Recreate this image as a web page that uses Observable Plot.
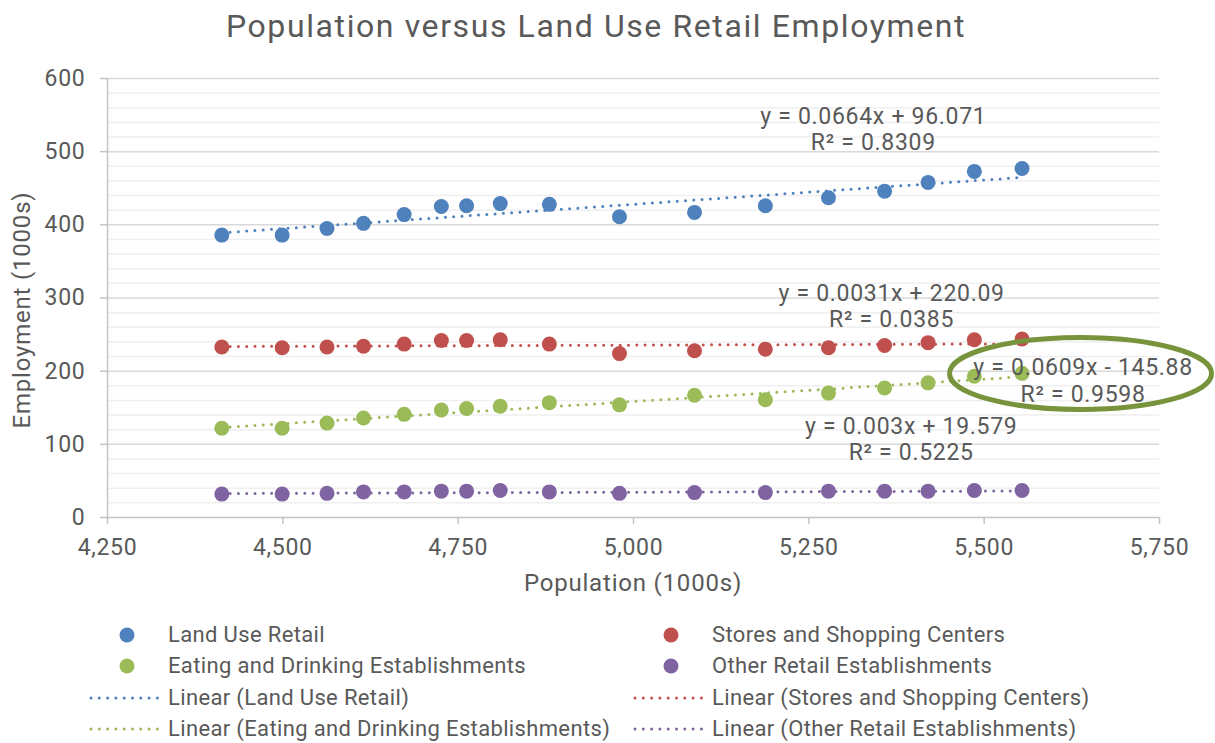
<!DOCTYPE html>
<html>
<head>
<meta charset="utf-8">
<script src="https://cdn.jsdelivr.net/npm/d3@7"></script>
<script src="https://cdn.jsdelivr.net/npm/@observablehq/plot@0.6"></script>
<style>
  body { margin: 0; background: #fff; }
  #chart { position: relative; width: 1215px; height: 743px; background: #fff;
           font-family: Roboto, "Open Sans", sans-serif; color: #595959; overflow: hidden; }
  #title { position: absolute; left: 0; top: 8px; width: 1192px; text-align: center;
           font-size: 32px; letter-spacing: 1.6px; line-height: 36px; white-space: nowrap; }
  #plot { position: absolute; left: 0; top: 40px; }
  .axis-title { position: absolute; font-size: 24px; letter-spacing: 0.8px; line-height: 28px; white-space: nowrap; }
  .legend-item { position: absolute; height: 30px; line-height: 30px; font-size: 22px; letter-spacing: 0.35px; white-space: nowrap; }
  .legend-item svg { position: absolute; top: 0; }
  .legend-item span { position: absolute; top: 0; }
</style>
</head>
<body>
<div id="chart">
  <div id="title">Population versus Land Use Retail Employment</div>
  <div id="plot"></div>
  <div class="axis-title" id="xtitle">Population (1000s)</div>
  <div class="axis-title" id="ytitle">Employment (1000s)</div>
  <div id="legend"></div>
</div>
<script>
// Population (1000s) for each observation year
const population = [4413, 4499, 4563, 4615, 4673, 4726, 4762, 4810, 4880, 4980, 5087, 5188, 5278, 5358, 5420, 5486, 5554];

// Employment (1000s) by category
const landUseRetail   = [386, 386, 395, 402, 414, 425, 426, 429, 428, 411, 417, 426, 437, 446, 458, 473, 477];
const storesShopping  = [233, 232, 233, 234, 237, 242, 242, 243, 237, 224, 228, 230, 232, 235, 239, 243, 244];
const eatingDrinking  = [122, 122, 129, 136, 141, 147, 149, 152, 157, 154, 167, 161, 170, 177, 184, 193, 197];
const otherRetail     = [32, 32, 33, 35, 35, 36, 36, 37, 35, 33, 34, 34, 36, 36, 36, 37, 37];

const seriesNames = ["Land Use Retail", "Stores and Shopping Centers", "Eating and Drinking Establishments", "Other Retail Establishments"];
const seriesValues = [landUseRetail, storesShopping, eatingDrinking, otherRetail];
const seriesColors = ["#4F81BD", "#C0504D", "#9BBB59", "#8064A2"];

// Linear trend line fits for each category
const trendSlopes = [0.0664, 0.0031, 0.0609, 0.003];
const trendIntercepts = [96.071, 220.09, -145.88, 19.579];
const trendR2 = [0.8309, 0.0385, 0.9598, 0.5225];

// Axis ticks
const xTicks = [4250, 4500, 4750, 5000, 5250, 5500, 5750];
const yTicks = [0, 100, 200, 300, 400, 500, 600];

// Where each fit equation sits, in data units (population, employment)
const equationAnchors = [[5342, 532], [5368, 290], [5641, 188], [5396, 108]];

const points = seriesNames.flatMap((name, i) =>
  population.map((p, j) => ({series: name, color: seriesColors[i], population: p, employment: seriesValues[i][j]})));

const [xMin, xMax] = d3.extent(population);
const trends = seriesNames.flatMap((name, i) =>
  [xMin, xMax].map(p => ({series: name, color: seriesColors[i], population: p,
                          employment: trendSlopes[i] * p + trendIntercepts[i]})));

const equations = seriesNames.map((name, i) => ({
  x: equationAnchors[i][0], y: equationAnchors[i][1],
  text: `y = ${trendSlopes[i]}x ${trendIntercepts[i] < 0 ? "-" : "+"} ${Math.abs(trendIntercepts[i])}\nR² = ${trendR2[i]}`
}));

const minorTicks = d3.range(20, 600, 20).filter(d => d % 100 !== 0);
const dotted = "0 8.3";

const plot = Plot.plot({
  width: 1215,
  height: 560,
  marginTop: 38,
  marginBottom: 83,
  marginLeft: 107,
  marginRight: 56,
  style: {fontFamily: "Roboto, 'Open Sans', sans-serif", color: "#595959", background: "transparent", overflow: "visible"},
  x: {domain: [4250, 5750]},
  y: {domain: [0, 600]},
  marks: [
    Plot.ruleY(minorTicks, {stroke: "#efefef", strokeWidth: 1.5}),
    Plot.ruleY(yTicks.filter(d => d > 0), {stroke: "#d9d9d9", strokeWidth: 1.5}),
    Plot.ruleX([4250], {stroke: "#c4c4c4", strokeWidth: 1.5}),
    Plot.ruleY([0], {stroke: "#c4c4c4", strokeWidth: 1.5}),
    Plot.axisX({ticks: xTicks, tickFormat: d3.format(","), tickSize: 7, tickPadding: 14,
                fontSize: 23, stroke: "#c4c4c4", strokeWidth: 1.5, label: null}),
    Plot.axisY({ticks: yTicks, tickSize: 7, tickPadding: 15, fontSize: 23,
                stroke: "#c4c4c4", strokeWidth: 1.5, label: null}),
    Plot.dot(points, {x: "population", y: "employment", r: 7.5, fill: "color"}),
    Plot.line(trends, {x: "population", y: "employment", z: "series", stroke: "color",
                       strokeWidth: 3, strokeDasharray: dotted, strokeLinecap: "round"}),
    Plot.text(equations, {x: "x", y: "y", text: "text", fontSize: 23, lineHeight: 1.15, fill: "#595959"})
  ]
});
d3.select(plot).style("letter-spacing", "0.7px");
document.getElementById("plot").appendChild(plot);

// Highlight ring around the eating-and-drinking fit equation
const sx = plot.scale("x"), sy = plot.scale("y");
d3.select(plot).append("ellipse")
  .attr("cx", sx.apply(equationAnchors[2][0]) - 2)
  .attr("cy", sy.apply(equationAnchors[2][1]) - 6)
  .attr("rx", 131)
  .attr("ry", 36)
  .attr("fill", "none")
  .attr("stroke", "#77933C")
  .attr("stroke-width", 5);

// Axis titles
const xt = document.getElementById("xtitle");
xt.style.left = "0px"; xt.style.width = (2 * 633) + "px"; xt.style.textAlign = "center"; xt.style.top = "569px";
const yt = document.getElementById("ytitle");
yt.style.left = "22px"; yt.style.top = "310px";
yt.style.transform = "translate(-50%, -50%) rotate(-90deg)";

// Legend: markers in two columns, then trend lines
const legend = document.getElementById("legend");
const rows = [635, 666, 698, 729];
const cols = [{mark: 127, lineFrom: 91, lineTo: 163, text: 168}, {mark: 671, lineFrom: 635, lineTo: 707, text: 712}];
const entries = [];
seriesNames.forEach((name, i) => entries.push({kind: "dot", name, color: seriesColors[i], slot: i}));
seriesNames.forEach((name, i) => entries.push({kind: "line", name: `Linear (${name})`, color: seriesColors[i], slot: i + 4}));
entries.forEach(e => {
  const row = rows[Math.floor(e.slot / 2)];
  const col = cols[e.slot % 2];
  const item = document.createElement("div");
  item.className = "legend-item";
  item.style.left = "0px";
  item.style.top = (row - 15) + "px";
  item.style.width = "1215px";
  const svg = d3.create("svg").attr("width", 1215).attr("height", 30).style("left", "0px");
  if (e.kind === "dot") {
    svg.append("circle").attr("cx", col.mark).attr("cy", 15).attr("r", 7.5).attr("fill", e.color);
  } else {
    svg.append("line").attr("x1", col.lineFrom).attr("x2", col.lineTo).attr("y1", 15).attr("y2", 15)
      .attr("stroke", e.color).attr("stroke-width", 3).attr("stroke-dasharray", dotted).attr("stroke-linecap", "round");
  }
  item.appendChild(svg.node());
  const label = document.createElement("span");
  label.textContent = e.name;
  label.style.left = col.text + "px";
  item.appendChild(label);
  legend.appendChild(item);
});
</script>
</body>
</html>
